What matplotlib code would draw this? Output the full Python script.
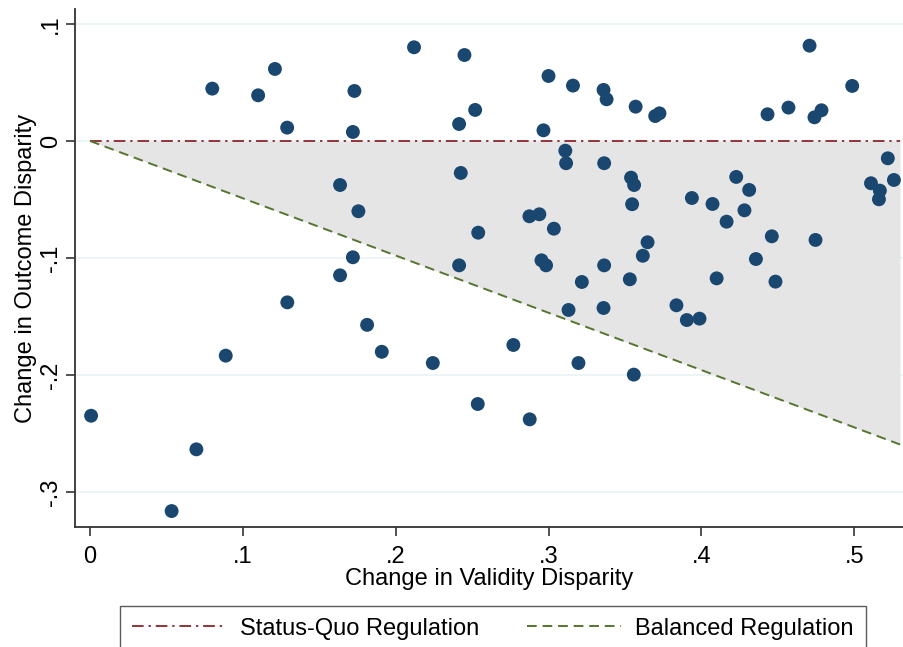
import matplotlib
matplotlib.use("Agg")
import matplotlib.pyplot as plt
import numpy as np

plt.rcParams["font.family"] = ["Liberation Sans", "DejaVu Sans"]

# change in validity disparity (x) and change in outcome disparity (y)
validity = [
    0.0007, 0.0534, 0.0696, 0.0888, 0.080, 0.110, 0.121, 0.129, 0.1291, 0.1636,
    0.1636, 0.172, 0.1756, 0.173, 0.172, 0.1813, 0.1909, 0.212, 0.2243, 0.2415,
    0.2426, 0.2415, 0.245, 0.252, 0.254, 0.2537, 0.277, 0.2875, 0.2877, 0.294,
    0.2954, 0.2967, 0.2984, 0.300, 0.3035, 0.311, 0.3115, 0.3131, 0.316, 0.3196,
    0.3218, 0.336, 0.338, 0.3364, 0.3364, 0.336, 0.3532, 0.354, 0.356, 0.3547,
    0.3558, 0.357, 0.3617, 0.3648, 0.3698, 0.3726, 0.3837, 0.3905, 0.3938, 0.3988,
    0.4073, 0.410, 0.4165, 0.4228, 0.4282, 0.4313, 0.4357, 0.4433, 0.4461, 0.4485,
    0.457, 0.4708, 0.474, 0.4747, 0.4786, 0.4987, 0.511, 0.5162, 0.5168, 0.522,
    0.526,
]
outcome = [
    -0.2346, -0.316, -0.2633, -0.1833, 0.0447, 0.039, 0.0615, 0.0114, -0.1378, -0.0376,
    -0.1147, -0.0993, -0.060, 0.0427, 0.0077, -0.157, -0.180, 0.080, -0.1896, 0.0145,
    -0.0273, -0.1062, 0.0734, 0.0265, -0.0783, -0.2246, -0.1742, -0.0643, -0.2377, -0.0626,
    -0.1019, 0.0091, -0.1062, 0.0555, -0.0749, -0.0083, -0.019, -0.1443, 0.0473, -0.1896,
    -0.1204, 0.0436, 0.0356, -0.019, -0.1062, -0.1426, -0.1181, -0.0313, -0.0376, -0.054,
    -0.1995, 0.0293, -0.098, -0.0865, 0.0213, 0.0236, -0.1403, -0.1529, -0.0487, -0.1517,
    -0.0538, -0.1173, -0.0689, -0.0307, -0.0592, -0.0418, -0.1008, 0.0228, -0.0814, -0.1201,
    0.0285, 0.0814, 0.0202, -0.0845, 0.0262, 0.047, -0.0361, -0.0498, -0.0424, -0.0148,
    -0.0333,
]

balanced_slope = -0.489
x_end = 0.530

xticks = [0, 0.1, 0.2, 0.3, 0.4, 0.5]
xtick_labels = ["0", ".1", ".2", ".3", ".4", ".5"]
yticks = [-0.3, -0.2, -0.1, 0, 0.1]
ytick_labels = ["-.3", "-.2", "-.1", "0", ".1"]

fig = plt.figure(figsize=(9.04, 6.47), dpi=100)
ax = fig.add_axes([0.083, 0.1855, 0.916, 0.8006])

xline = np.array([0.0, x_end])
yline = balanced_slope * xline
ax.fill_between(xline, yline, 0, color="#e5e5e5", lw=0, zorder=1)

for yt in yticks:
    ax.axhline(yt, color="#eaf2f3", lw=1.2, zorder=0)

ax.plot(xline, [0, 0], color="#90353b", lw=1.4, ls=(0, (6, 2.5, 1.2, 2.5)),
        label="Status-Quo Regulation", zorder=2)
ax.plot(xline, yline, color="#55752f", lw=1.4, ls=(0, (5, 3)),
        label="Balanced Regulation", zorder=2)

ax.scatter(validity, outcome, s=100, color="#1a476f", edgecolors="none", zorder=3)

ax.set_xlim(-0.0098, 0.532)
ax.set_ylim(-0.3296, 0.1127)
ax.set_xticks(xticks)
ax.set_xticklabels(xtick_labels, fontsize=17)
ax.set_yticks(yticks)
ax.set_yticklabels(ytick_labels, fontsize=17, rotation=90, va="center")
ax.tick_params(axis="both", length=6.5, width=1.2, color="#333333", direction="out")
ax.tick_params(axis="x", pad=7)
ax.tick_params(axis="y", pad=3)

for side in ["top", "right"]:
    ax.spines[side].set_visible(False)
for side in ["left", "bottom"]:
    ax.spines[side].set_color("#333333")
    ax.spines[side].set_linewidth(1.3)

ax.set_xlabel("Change in Validity Disparity", fontsize=17, labelpad=0)
ax.set_ylabel("Change in Outcome Disparity", fontsize=17, labelpad=2)

handles, labels = ax.get_legend_handles_labels()
leg = fig.legend(handles, labels, loc="upper center", bbox_to_anchor=(0.545, 1 - 594 / 647),
                 ncol=2, fontsize=17, frameon=True, fancybox=False, handlelength=4.0,
                 handletextpad=0.6, columnspacing=2.0, borderpad=0.5)
leg.get_frame().set_edgecolor("#333333")
leg.get_frame().set_linewidth(1.0)

fig.savefig("out.png", dpi=100)
